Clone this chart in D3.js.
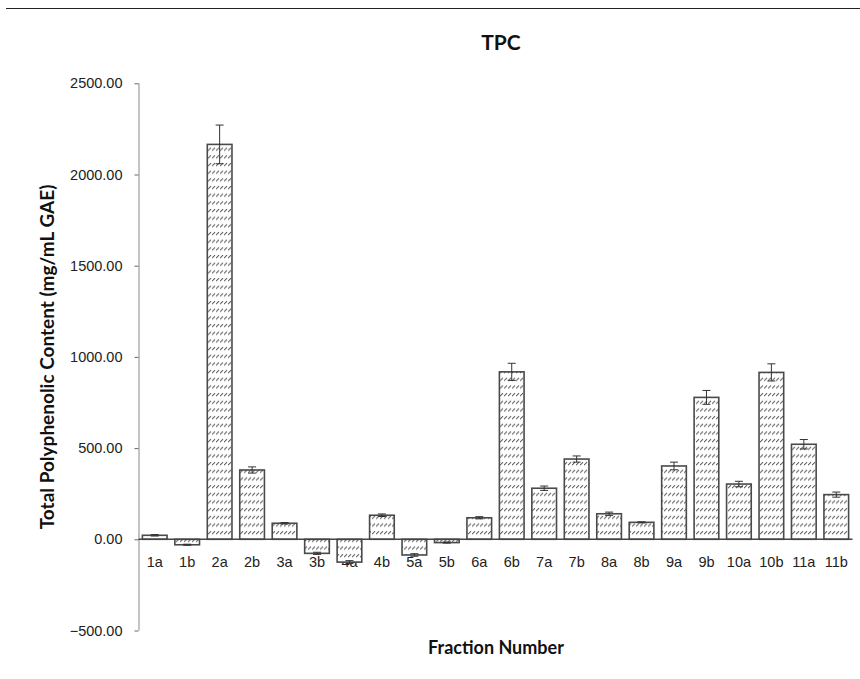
<!DOCTYPE html>
<html>
<head>
<meta charset="utf-8">
<script src="https://cdn.jsdelivr.net/npm/d3@7"></script>
<style>
  body { margin: 0; background: #fff; }
  svg { display: block; font-family: Lato, 'Open Sans', sans-serif; }
</style>
</head>
<body>
<div id="myPlot"></div>
<script>
// fractions and their TPC readings (mg/mL GAE)
const fractions = ['1a', '1b', '2a', '2b', '3a', '3b', '4a', '4b', '5a', '5b', '6a',
                   '6b', '7a', '7b', '8a', '8b', '9a', '9b', '10a', '10b', '11a', '11b'];
const tpcValues = [22, -30, 2165, 380, 88, -77, -125, 132, -86, -18, 118,
                   918, 280, 440, 140, 93, 402, 778, 303, 915, 521, 245];
const tpcErrors = [4, 3, 106, 17, 4, 6, 8, 7, 7, 3, 6,
                   47, 12, 17, 9, 3, 21, 38, 15, 47, 26, 14];
const yTicks = [-500, 0, 500, 1000, 1500, 2000, 2500];

const data = fractions.map((f, i) => ({ name: f, value: tpcValues[i], err: tpcErrors[i] }));

const width = 860;
const height = 679;
const margin = {top: 83.3, right: 7.5, bottom: 48.5, left: 138.5};

const svg = d3.select('#myPlot')
  .append('svg')
    .attr('width', width)
    .attr('height', height);

// hatch fill like the excel pattern
const defs = svg.append('defs');
const pat = defs.append('pattern')
  .attr('id', 'hatch')
  .attr('patternUnits', 'userSpaceOnUse')
  .attr('width', 4)
  .attr('height', 7.67);
pat.append('rect').attr('width', 4).attr('height', 7.67).attr('fill', '#fff');
pat.append('path')
  .attr('d', 'M0,5 L3,2')
  .attr('stroke', '#555')
  .attr('stroke-width', 1);

// top rule
svg.append('line')
  .attr('x1', 6).attr('x2', width)
  .attr('y1', 8.5).attr('y2', 8.5)
  .attr('stroke', '#222')
  .attr('stroke-width', 1);

const x = d3.scaleBand()
  .domain(fractions)
  .range([margin.left, width - margin.right])
  .paddingInner(0.24)
  .paddingOuter(0.12);

const y = d3.scaleLinear()
  .domain([-500, 2500])
  .range([height - margin.bottom, margin.top]);

// Y axis
const yAxis = svg.append('g')
  .attr('transform', 'translate(' + margin.left + ',0)')
  .call(d3.axisLeft(y).tickValues(yTicks).tickFormat(d3.format('.2f')).tickSize(4).tickPadding(12));
yAxis.select('.domain').attr('stroke', '#888').attr('d', 'M0.5,' + y(2500) + 'V' + y(-500));
yAxis.selectAll('.tick line').attr('stroke', '#666');
yAxis.selectAll('text')
  .style('font-size', '14.5px')
  .attr('fill', '#222');

// X axis labels (category text sits under the zero line)
const xAxis = svg.append('g')
  .attr('transform', 'translate(0,' + y(0) + ')')
  .call(d3.axisBottom(x).tickSize(0).tickPadding(17));
xAxis.select('.domain').remove();
xAxis.selectAll('text')
  .style('font-size', '14.5px')
  .attr('fill', '#222');

// Bars
svg.selectAll('rect.bar')
  .data(data)
  .enter()
  .append('rect')
    .attr('class', 'bar')
    .attr('x', d => x(d.name))
    .attr('y', d => y(Math.max(0, d.value)))
    .attr('width', x.bandwidth())
    .attr('height', d => Math.abs(y(d.value) - y(0)))
    .attr('fill', 'url(#hatch)')
    .attr('stroke', '#4a4a4a')
    .attr('stroke-width', 1.6);

// zero line
svg.append('line')
  .attr('x1', margin.left).attr('x2', width - margin.right)
  .attr('y1', y(0)).attr('y2', y(0))
  .attr('stroke', '#444')
  .attr('stroke-width', 1.5);

// Error bars
const eb = svg.selectAll('g.err')
  .data(data)
  .enter()
  .append('g')
    .attr('class', 'err')
    .attr('stroke', '#333')
    .attr('stroke-width', 1);
eb.append('line')
  .attr('x1', d => x(d.name) + x.bandwidth() / 2)
  .attr('x2', d => x(d.name) + x.bandwidth() / 2)
  .attr('y1', d => y(d.value + d.err))
  .attr('y2', d => y(d.value - d.err));
eb.append('line')
  .attr('x1', d => x(d.name) + x.bandwidth() / 2 - 4)
  .attr('x2', d => x(d.name) + x.bandwidth() / 2 + 4)
  .attr('y1', d => y(d.value + d.err))
  .attr('y2', d => y(d.value + d.err));
eb.append('line')
  .attr('x1', d => x(d.name) + x.bandwidth() / 2 - 4)
  .attr('x2', d => x(d.name) + x.bandwidth() / 2 + 4)
  .attr('y1', d => y(d.value - d.err))
  .attr('y2', d => y(d.value - d.err));

// Titles
svg.append('text')
  .attr('x', 501).attr('y', 50)
  .attr('text-anchor', 'middle')
  .style('font-size', '21px')
  .style('font-weight', 'bold')
  .attr('fill', '#111')
  .text('TPC');

svg.append('text')
  .attr('x', 496).attr('y', 654)
  .attr('text-anchor', 'middle')
  .style('font-size', '18px')
  .style('font-weight', 'bold')
  .attr('fill', '#111')
  .text('Fraction Number');

svg.append('text')
  .attr('transform', 'translate(54,' + (y(-500) + y(2500)) / 2 + ') rotate(-90)')
  .attr('text-anchor', 'middle')
  .style('font-size', '19px')
  .style('font-weight', 'bold')
  .attr('fill', '#111')
  .text('Total Polyphenolic Content (mg/mL GAE)');
</script>
</body>
</html>
